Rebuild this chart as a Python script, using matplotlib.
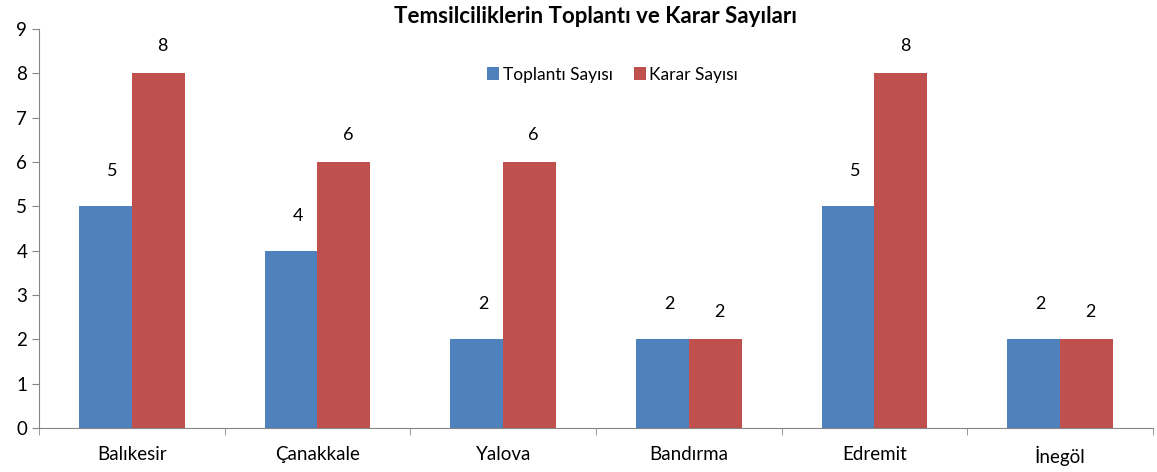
import numpy as np
import matplotlib.pyplot as plt

plt.rcParams['font.family'] = ['Lato', 'DejaVu Sans']

categories = ['Balıkesir', 'Çanakkale', 'Yalova', 'Bandırma', 'Edremit', 'İnegöl']
toplanti = [5, 4, 2, 2, 5, 2]
karar = [8, 6, 6, 2, 8, 2]

fig = plt.figure(figsize=(11.57, 4.72), dpi=100)
ax = fig.add_axes([0.0337, 0.0932, 0.9628, 0.8454])

x = np.arange(len(categories))
w = 0.285
b1 = ax.bar(x - w / 2, toplanti, w, color='#4F81BD', label='Toplantı Sayısı')
b2 = ax.bar(x + w / 2, karar, w, color='#C0504D', label='Karar Sayısı')

# data labels
for rect, v in zip(b1, toplanti):
    ax.annotate(str(v), (rect.get_x() + rect.get_width() / 2, v), xytext=(7, 27),
                textcoords='offset pixels', ha='center', va='bottom', fontsize=13)
for rect, v in zip(b2, karar):
    ax.annotate(str(v), (rect.get_x() + rect.get_width() / 2, v), xytext=(4, 19),
                textcoords='offset pixels', ha='center', va='bottom', fontsize=13)

ax.set_xlim(-0.5, len(categories) - 0.5)
ax.set_ylim(0, 9)
ax.set_yticks(range(10))
ax.set_xticks(x)
ax.set_xticklabels(categories, fontsize=13.5)
ax.set_xticks(np.arange(-0.5, len(categories)), minor=True)
ax.tick_params(axis='x', which='major', length=0, pad=13)
ax.tick_params(axis='x', which='minor', length=5, color='#868686')
ax.tick_params(axis='y', length=5, color='#868686', labelsize=13.5)

for s in ['top', 'right']:
    ax.spines[s].set_visible(False)
for s in ['left', 'bottom']:
    ax.spines[s].set_color('#868686')

ax.set_title('Temsilciliklerin Toplantı ve Karar Sayıları', fontsize=16,
             fontweight='bold', pad=4)
ax.legend(loc='upper center', bbox_to_anchor=(0.515, 0.945), ncol=2, frameon=False,
          fontsize=12.5, handlelength=0.7, handleheight=0.7, handletextpad=0.2,
          columnspacing=1.2)

plt.savefig('out.png', dpi=100)
plt.close()
